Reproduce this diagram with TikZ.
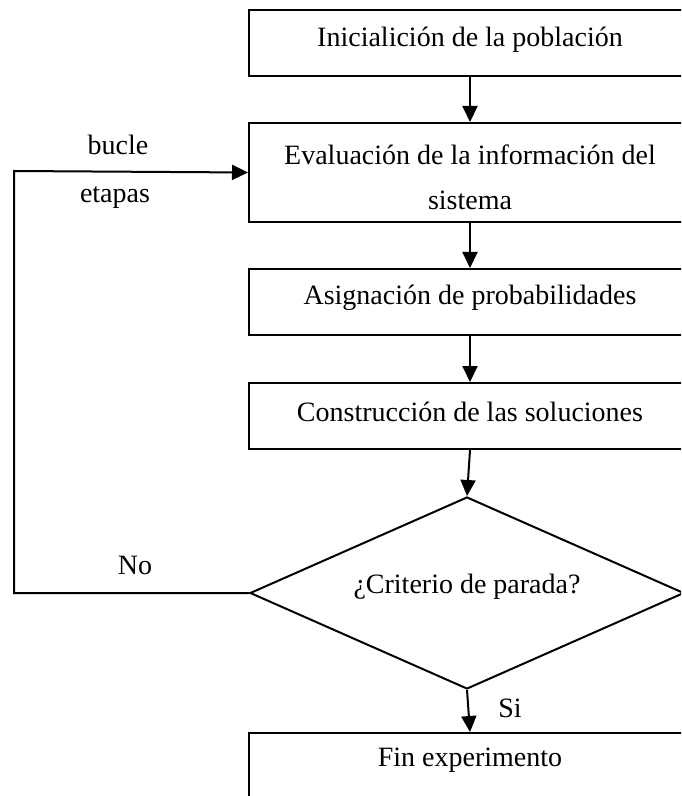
\documentclass[tikz,border=0pt]{standalone}
\usepackage{fontspec}
\setmainfont{Liberation Serif}
\usetikzlibrary{shapes.geometric,arrows.meta}
\begin{document}
\begin{tikzpicture}[x=0.5pt,y=-0.5pt,
  every node/.style={font=\fontsize{14}{22.5}\selectfont},
  stepbox/.style={draw,line width=1pt,minimum width=221pt,inner sep=0pt},
  decision/.style={draw,line width=1pt,diamond,aspect=2.26,minimum width=217pt,minimum height=96pt,inner sep=0pt},
  arr/.style={line width=1pt,-{Triangle[length=8pt,width=7.5pt]}},
  lbl/.style={inner sep=0pt}]
\useasboundingbox (0,0) rectangle (681,796);
\begin{scope}
\clip (0,0) rectangle (681,796);
\node[stepbox,minimum height=33pt] (b1) at (470,43) {};
\node[lbl] (t1) at (470,40) {Inicialición de la población};
\node[stepbox,minimum height=49.5pt] (b2) at (470,172.5) {};
\node[lbl,align=center] (t2) at (470,177) {Evaluación de la información del\\sistema};
\node[stepbox,minimum height=33pt] (b3) at (470,302) {};
\node[lbl] (t3) at (470,298) {Asignación de probabilidades};
\node[stepbox,minimum height=33pt] (b4) at (470,416) {};
\node[lbl] (t4) at (470,412) {Construcción de las soluciones};
\node[decision] (d) at (467,593) {};
\node[lbl] (td) at (467,587) {¿Criterio de parada?};
\node[stepbox,minimum height=33pt] (b5) at (470,766) {};
\node[lbl] (t5) at (470,760) {Fin experimento};
\coordinate (c1) at (14,593);
\coordinate (c2) at (14,171);
\draw[arr] (b1.south) -- (b2.north);
\draw[arr] (b2.south) -- (b3.north);
\draw[arr] (b3.south) -- (b4.north);
\draw[arr] (b4.south) -- (d.north);
\draw[arr] (d.south) -- (b5.north);
\draw[arr] (d.west) -- (c1) -- (c2) -- (b2.west);
\node[lbl] (l1) at (118,145) {bucle};
\node[lbl] (l2) at (115,198) {etapas};
\node[lbl] (l3) at (135,565) {No};
\node[lbl] (l4) at (510,708) {Si};
\end{scope}
\end{tikzpicture}
\end{document}
